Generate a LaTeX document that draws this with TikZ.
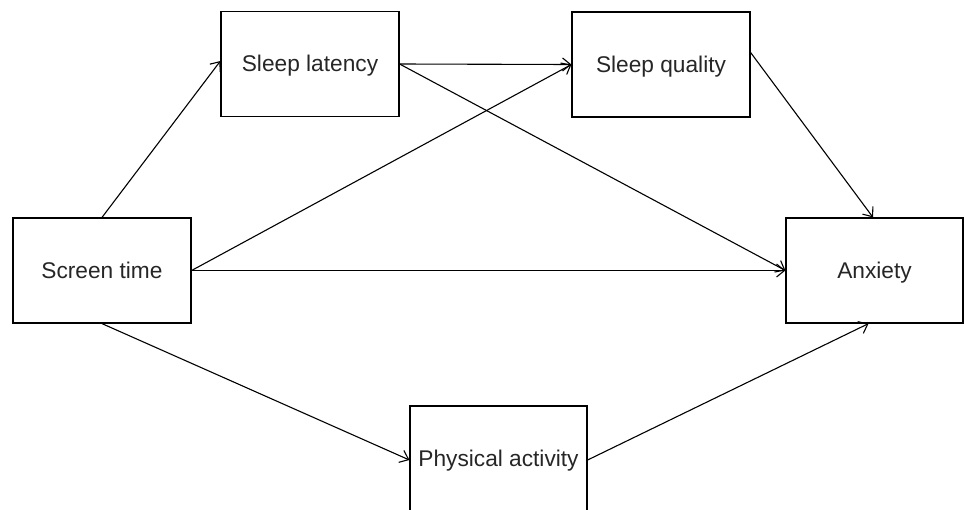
\documentclass[tikz,border=0pt]{standalone}
\usepackage{fontspec}
\setmainfont{Liberation Sans}
\usetikzlibrary{arrows.meta}
\begin{document}
\begin{tikzpicture}[x=1pt,y=-1pt,
  box/.style={draw=black,line width=1.2pt,minimum width=178pt,minimum height=105pt,inner sep=0pt,text height=15pt,text depth=0pt,font=\fontsize{22.7}{25}\selectfont,text=black!85},
  arr/.style={draw=black,line width=1.1pt,-{Straight Barb[length=8pt,width=13pt,line width=1.1pt]}}]
\useasboundingbox (0,0) rectangle (964,509);
\clip (0,0) rectangle (964,509);
\node[box] (st) at (102,270.5) {Screen time};
\node[box] (sl) at (310,64) {Sleep latency};
\node[box] (sq) at (661,64.5) {Sleep quality};
\node[box,minimum width=177pt] (ax) at (874.5,270.5) {Anxiety};
\node[box,minimum width=177pt,minimum height=106pt] (pa) at (498.5,459) {Physical activity};
\draw[arr] (st.north) -- ([yshift=3pt]sl.west);
\draw[arr] (sl.east) -- (sq.west);
\draw[arr] (sl.east) -- (ax.west);
\draw[arr] (st.east) -- (sq.west);
\draw[arr] (st.east) -- (ax.west);
\draw[arr] ([yshift=12pt]sq.east) -- ([xshift=-1.5pt]ax.north);
\draw[arr] (st.south) -- ([yshift=-1pt]pa.west);
\draw[arr] ([yshift=-1pt]pa.east) -- ([xshift=-6pt]ax.south);
\end{tikzpicture}
\end{document}
